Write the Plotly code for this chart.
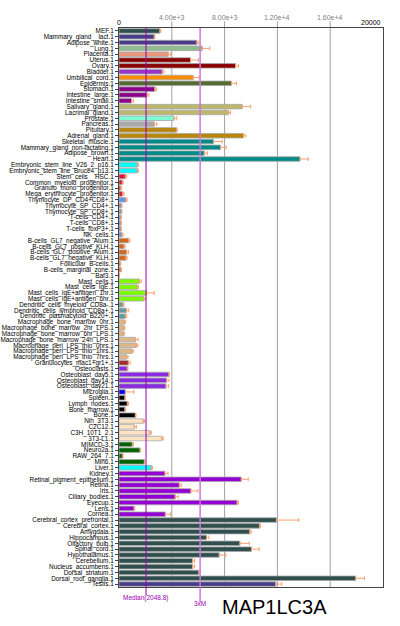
import plotly.graph_objects as go

categories = [
    "MEF.1", "Mammary_gland__lact.1", "Adipose_white.1", "Lung.1", "Placenta.1",
    "Uterus.1", "Ovary.1", "Bladder.1", "Umbilical_cord.1", "Epidermis.1",
    "Stomach.1", "Intestine_large.1", "Intestine_small.1", "Salivary_gland.1",
    "Lacrimal_gland.1", "Prostate.1", "Pancreas.1", "Pituitary.1", "Adrenal_gland.1",
    "Skeletal_muscle.1", "Mammary_gland_non-lactating.1", "Adipose_brown.1", "Heart.1",
    "Embryonic_stem_line_V26_2_p16.1", "Embryonic_stem_line_Bruce4_p13.1",
    "Stem_cells__HSC.1", "Common_myeloid_progenitor.1", "Granulo_mono_progenitor.1",
    "Mega_erythrocyte_progenitor.1", "Thymocyte_DP_CD4+CD8+.1", "Thymocyte_SP_CD4+.1",
    "Thymocyte_SP_CD8+.1", "T-cells_CD4+.1", "T-cells_CD8+.1", "T-cells_foxP3+.1",
    "NK_cells.1", "B-cells_GL7_negative_Alum.1", "B-cells_GL7_positive_KLH.1",
    "B-cells_GL7_positive_Alum.1", "B-cells_GL7_negative_KLH.1", "Follicular_B-cells.1",
    "B-cells_marginal_zone.1", "Baf3.1", "Mast_cells.1", "Mast_cells_IgE.1",
    "Mast_cells_IgE+antigen_1hr.1", "Mast_cells_IgE+antigen_6hr.1",
    "Dendritic_cells_myeloid_CD8a-.1", "Dendritic_cells_lymphoid_CD8a+.1",
    "Dendritic_plasmacytoid_B220+.1", "Macrophage_bone_marrow_0hr.1",
    "Macrophage_bone_marrow_2hr_LPS.1", "Macrophage_bone_marrow_6hr_LPS.1",
    "Macrophage_bone_marrow_24h_LPS.1", "Macrophage_peri_LPS_thio_0hrs.1",
    "Macrophage_peri_LPS_thio_1hrs.1", "Macrophage_peri_LPS_thio_7hrs.1",
    "Granulocytes_mac1+gr1+.1", "Osteoclasts.1", "Osteoblast_day5.1",
    "Osteoblast_day14.1", "Osteoblast_day21.1", "Microglia.1", "Spleen.1",
    "Lymph_nodes.1", "Bone_marrow.1", "Bone.1", "Nih_3T3.1", "C2C12.1",
    "C3H_10T1_2.1", "3T3-L1.1", "MIMCD-3.1", "Neuro2a.1", "RAW_264_7.1", "Min6.1",
    "Liver.1", "Kidney.1", "Retinal_pigment_epithelium.1", "Retina.1", "Iris.1",
    "Ciliary_bodies.1", "Eyecup.1", "Lens.1", "Cornea.1",
    "Cerebral_cortex_prefrontal.1", "Cerebral_cortex.1", "Amygdala.1",
    "Hippocampus.1", "Olfactory_bulb.1", "Spinal_cord.1", "Hypothalamus.1",
    "Cerebellum.1", "Nucleus_accumbens.1", "Dorsal_striatum.1",
    "Dorsal_root_ganglia.1", "Testis.1",
]

values = [
    3100, 2670, 5900, 6300, 3730,
    5420, 8830, 3280, 5620, 8520,
    2720, 2120, 960, 9330,
    8300, 4160, 2670, 4360, 9430,
    7160, 7690, 6460, 13710,
    1390, 1390,
    480, 250, 130,
    280, 530, 180,
    180, 150, 150, 150,
    230, 730, 380,
    580, 530, 100,
    150, 30, 1540, 1390,
    2090, 1890,
    300, 560,
    480, 400,
    380, 330,
    1240, 1310,
    980, 580,
    710, 630, 3780,
    3610, 3560, 480, 450,
    630, 450, 1240, 1840, 1160,
    2350, 3250, 1010, 1590, 280, 1920,
    2450, 3480, 9260, 4570, 5450,
    4260, 8950, 1140, 3510,
    11930, 10640, 9910,
    6630, 9160, 10040, 7590,
    5570, 5570, 6050,
    17930, 11880,
]

errors = [
    60, 50, 130, 580, 180,
    600, 230, 130, 450, 380,
    130, 150, 130, 650,
    150, 230, 200, 50, 180,
    650, 430, 230, 630,
    80, 80,
    100, 60, 40,
    100, 80, 50,
    40, 30, 30, 30,
    80, 100, 80,
    150, 80, 30,
    30, 10, 150, 100,
    580, 130,
    80, 180,
    100, 80,
    60, 80,
    200, 130,
    100, 100,
    130, 50, 30,
    180, 200, 650, 30,
    100, 30, 50, 100, 150,
    100, 100, 80, 50, 30, 20,
    80, 230, 530, 150, 530,
    230, 100, 50, 400,
    1690, 80, 100,
    180, 710, 580, 500,
    150, 150, 80,
    660, 450,
]

group_sizes = [1, 2, 1, 1, 2, 1, 1, 1, 3, 2, 1, 1, 2, 4, 2, 4, 7, 7, 4, 3, 7, 1, 4, 1, 4, 4, 4, 1, 8, 11, 1]
group_colors = [
    "#2F4F4F",            # MEF
    "#483D8B",            # mammary lact, adipose white
    "#8FBC8F",            # lung
    "#E9967A",            # placenta
    "#8B0000",            # uterus, ovary
    "#9932CC",            # bladder
    "#FF8C00",            # umbilical
    "#556B2F",            # epidermis
    "#8B008B",            # stomach, intestines
    "#BDB76B",            # salivary, lacrimal
    "#7FFFD4",            # prostate
    "#A9A9A9",            # pancreas
    "#B8860B",            # pituitary, adrenal
    "#008B8B",            # muscle..heart
    "#00FFFF",            # ES
    "#DC143C",            # progenitors
    "#6495ED",            # T/NK
    "#D2691E",            # B cells + Baf3
    "#7CFC00",            # mast
    "#5F9EA0",            # DC
    "#DEB887",            # macrophages
    "#A52A2A",            # granulocytes
    "#8A2BE2",            # osteoclasts, osteoblasts
    "#0000FF",            # microglia
    "#000000",            # spleen..bone
    "#FFE4C4",            # cell lines
    "#006400",            # MIMCD..Min6
    "#00FFFF",            # liver
    "#9400D3",            # kidney + eye
    "#2F4F4F",            # brain
    "#483D8B",            # testis
]

colors = []
for c, n in zip(group_colors, group_sizes):
    colors += [c] * n

median = 2048.8
tick_vals = [4000, 8000, 12000, 16000]
tick_text = ["4.00e+3", "8.00e+3", "1.20e+4", "1.60e+4"]
xmax = 20000
title = "MAP1LC3A"

FONT = "Liberation Sans, Arial, Helvetica, sans-serif"

fig = go.Figure()
fig.add_trace(go.Bar(
    y=categories, x=values, orientation="h",
    marker=dict(color=colors, line=dict(color="#A8A8A8", width=0.8)),
    width=0.78,
    error_x=dict(type="data", array=errors, arrayminus=[0] * len(errors),
                 symmetric=False, color="#F4A070", thickness=1, width=2),
    hoverinfo="x+y",
))

shapes = []
for tv in tick_vals:
    shapes.append(dict(type="line", xref="x", yref="paper", x0=tv, x1=tv, y0=0, y1=1.012,
                       line=dict(color="#A0A0A0", width=1), layer="below"))
shapes.append(dict(type="line", xref="x", yref="paper", x0=median, x1=median, y0=-0.015, y1=1,
                   line=dict(color="#9900AA", width=1)))
shapes.append(dict(type="line", xref="x", yref="paper", x0=3 * median, x1=3 * median, y0=-0.027, y1=1,
                   line=dict(color="#CC77DD", width=1.5)))

annotations = []
for tv, tt in zip(tick_vals, tick_text):
    annotations.append(dict(x=tv, y=1.009, xref="x", yref="paper", text=tt, showarrow=False,
                            xanchor="center", yanchor="bottom",
                            font=dict(family=FONT, size=7, color="#808080")))
annotations.append(dict(x=0, y=1.0, xref="x", yref="paper", text="0", showarrow=False,
                        xanchor="center", yanchor="bottom", font=dict(family=FONT, size=7, color="#000")))
annotations.append(dict(x=xmax, y=1.0, xref="x", yref="paper", text="20000", showarrow=False,
                        xanchor="right", yanchor="bottom", font=dict(family=FONT, size=7, color="#000")))
annotations.append(dict(x=median, y=-0.0197, xref="x", yref="paper", text="Median(2048.8)", showarrow=False,
                        xanchor="center", yanchor="middle", font=dict(family=FONT, size=6.5, color="#9900AA")))
annotations.append(dict(x=3 * median, y=-0.0304, xref="x", yref="paper", text="3xM", showarrow=False,
                        xanchor="center", yanchor="middle", font=dict(family=FONT, size=6.5, color="#9900AA")))
annotations.append(dict(x=11800, y=-0.036, xref="x", yref="paper", text=title, showarrow=False,
                        xanchor="center", yanchor="middle",
                        font=dict(family=FONT, size=20, color="#000")))

fig.update_layout(
    width=400, height=626,
    margin=dict(l=119, r=17, t=28, b=39),
    paper_bgcolor="white", plot_bgcolor="white",
    showlegend=False,
    font=dict(family=FONT, size=6.4, color="#000"),
    xaxis=dict(range=[0, xmax], side="top", showticklabels=False, showgrid=False,
               zeroline=False, showline=True, linecolor="#444", linewidth=1, mirror=True,
               ticks=""),
    yaxis=dict(autorange="reversed", showgrid=False, zeroline=False, showline=True,
               linecolor="#444", linewidth=1, mirror=True, ticks="outside", ticklen=3,
               tickcolor="#444", tickfont=dict(family=FONT, size=6.4, color="#000"),
               type="category", tickmode="array", tickvals=categories, ticktext=categories,
               automargin=False),
    shapes=shapes,
    annotations=annotations,
)

fig.write_html("out.html", config={"displayModeBar": False},
               post_script="document.body.style.margin='0';document.body.style.padding='0';")
